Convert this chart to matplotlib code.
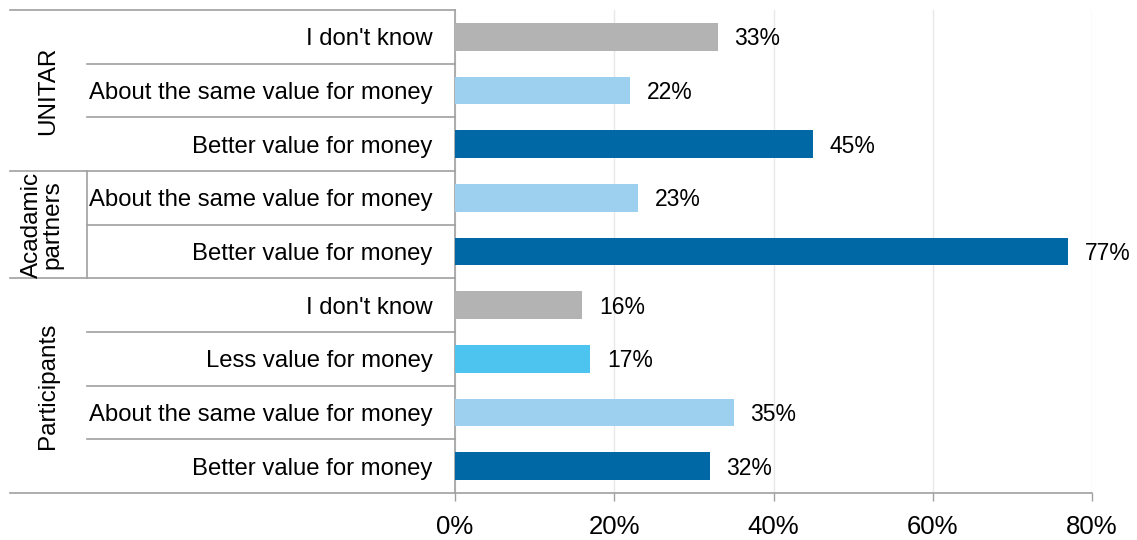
import matplotlib
matplotlib.use('Agg')
import matplotlib.pyplot as plt
import matplotlib.transforms as mtransforms
import numpy as np

plt.rcParams['font.family'] = ['Liberation Sans', 'DejaVu Sans']

# rows from top to bottom
groups = ['UNITAR', 'Acadamic\npartners', 'Participants']
group_sizes = [3, 2, 4]
labels = ['I don\'t know', 'About the same value for money', 'Better value for money',
          'About the same value for money', 'Better value for money',
          'I don\'t know', 'Less value for money', 'About the same value for money',
          'Better value for money']
values = [33, 22, 45, 23, 77, 16, 17, 35, 32]

color_map = {
    'I don\'t know': '#b3b3b3',
    'About the same value for money': '#9dcfee',
    'Better value for money': '#0068a5',
    'Less value for money': '#4dc3f0',
}
colors = [color_map[l] for l in labels]

W, H = 1137, 540
fig = plt.figure(figsize=(W / 100, H / 100), dpi=100)
ax_l, ax_r, ax_t, ax_b = 455, 1092, 10, 493
ax = fig.add_axes([ax_l / W, 1 - ax_b / H, (ax_r - ax_l) / W, (ax_b - ax_t) / H])

y = np.arange(len(values))
ax.barh(y, values, height=0.52, color=colors, zorder=3)
ax.set_ylim(len(values) - 0.5, -0.5)
ax.set_xlim(0, 80)

for yi, v in zip(y, values):
    ax.annotate(f'{v}%', (v, yi), xytext=(12, -1.5), textcoords='offset points',
                va='center', ha='left', fontsize=16.5, color='#000000')

ax.set_xticks([0, 20, 40, 60, 80])
ax.set_xticklabels(['0%', '20%', '40%', '60%', '80%'], fontsize=18.5)
ax.set_yticks(y)
ax.set_yticklabels(labels, fontsize=17.2)
ax.tick_params(axis='y', length=0, pad=16)
ax.tick_params(axis='x', length=6, width=1, color='#a0a0a0', pad=10)
ax.grid(axis='x', color='#e8e8e8', linewidth=1, zorder=0)

for s in ['top', 'right']:
    ax.spines[s].set_visible(False)
for s in ['left', 'bottom']:
    ax.spines[s].set_color('#a0a0a0')
    ax.spines[s].set_linewidth(1.2)

# multi-level category axis lines
trans = mtransforms.blended_transform_factory(ax.transAxes, ax.transData)
def px(xp):
    return (xp - ax_l) / (ax_r - ax_l)

line_kw = dict(color='#a0a0a0', linewidth=1.2, clip_on=False, transform=trans)
bounds = np.cumsum([0] + group_sizes) - 0.5
for b in bounds:
    ax.plot([px(10), 0], [b, b], **line_kw)
for i in range(len(values) - 1):
    if i + 0.5 not in bounds:
        ax.plot([px(87), 0], [i + 0.5, i + 0.5], **line_kw)
ax.plot([px(87), px(87)], [bounds[1], bounds[2]], **line_kw)

group_x = [48, 42, 48]
for g, x0, b0, b1 in zip(groups, group_x, bounds[:-1], bounds[1:]):
    ax.text(px(x0), (b0 + b1) / 2, g, transform=trans, rotation=90,
            ha='center', va='center', fontsize=17.5, linespacing=0.9)

fig.savefig('out.png', dpi=100)
